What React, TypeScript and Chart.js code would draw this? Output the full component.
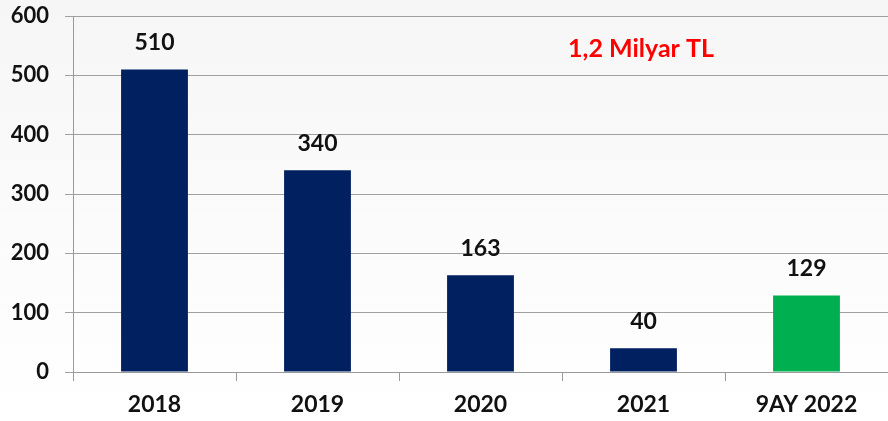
import React, { useEffect, useRef } from "react";
import { Chart, registerables } from "chart.js";

Chart.register(...registerables);

const categories = ["2018", "2019", "2020", "2021", "9AY 2022"];
const values = [510, 340, 163, 40, 129];
const barColors = ["#002060", "#002060", "#002060", "#002060", "#00B050"];
const yTicks = [0, 100, 200, 300, 400, 500, 600];
const noteText = "1,2 Milyar TL";

const FONT = "Lato, 'Liberation Sans', sans-serif";

export default function App() {
  const ref = useRef<HTMLCanvasElement | null>(null);

  useEffect(() => {
    document.body.style.margin = "0";
    const canvas = ref.current;
    if (!canvas) return;

    const bgPlugin = {
      id: "bg",
      beforeDraw(chart: any) {
        const { ctx, width, height } = chart;
        const g = ctx.createLinearGradient(0, 0, 0, height);
        g.addColorStop(0, "#f6f6f6");
        g.addColorStop(1, "#ffffff");
        ctx.save();
        ctx.fillStyle = g;
        ctx.fillRect(0, 0, width, height);
        ctx.restore();
      },
    };

    const labelPlugin = {
      id: "labels",
      afterDatasetsDraw(chart: any) {
        const { ctx } = chart;
        const meta = chart.getDatasetMeta(0);
        ctx.save();
        ctx.font = `bold 23px ${FONT}`;
        ctx.fillStyle = "#111111";
        ctx.textAlign = "center";
        ctx.textBaseline = "middle";
        meta.data.forEach((bar: any, i: number) => {
          ctx.fillText(String(values[i]), bar.x, bar.y - 27);
        });
        const ys = chart.scales.y;
        ctx.font = `bold 25px ${FONT}`;
        ctx.fillStyle = "#ff0000";
        ctx.fillText(noteText, 641, ys.getPixelForValue(545));
        ctx.restore();
      },
    };

    const chart = new Chart(canvas, {
      type: "bar",
      data: {
        labels: categories,
        datasets: [
          {
            data: values,
            backgroundColor: barColors,
            borderWidth: 0,
            categoryPercentage: 1,
            barPercentage: 0.41,
          },
        ],
      },
      options: {
        animation: false,
        responsive: false,
        devicePixelRatio: 1,
        layout: { padding: { top: 16, right: 0, left: 0, bottom: 0 } },
        plugins: {
          legend: { display: false },
          tooltip: { enabled: false },
        },
        scales: {
          x: {
            offset: true,
            grid: {
              offset: true,
              drawOnChartArea: false,
              drawTicks: true,
              tickLength: 9,
              color: "#9a9a9a",
            },
            border: { color: "#9a9a9a", width: 1 },
            ticks: {
              color: "#111111",
              font: { family: FONT, size: 23, weight: "bold" },
              padding: 10,
              maxRotation: 0,
            },
            afterFit(scale: any) {
              scale.height = 49;
            },
          },
          y: {
            min: 0,
            max: 600,
            afterBuildTicks(scale: any) {
              scale.ticks = yTicks.map((v) => ({ value: v }));
            },
            grid: {
              color: "#a0a0a0",
              tickLength: 8,
              drawTicks: true,
            },
            border: { color: "#9a9a9a", width: 1 },
            ticks: {
              color: "#111111",
              font: { family: FONT, size: 22, weight: "bold" },
              padding: 16,
            },
            afterFit(scale: any) {
              scale.width = 73;
              scale.paddingTop = 0;
              scale.paddingBottom = 0;
            },
          },
        },
      },
      plugins: [bgPlugin, labelPlugin],
    } as any);

    return () => chart.destroy();
  }, []);

  return (
    <div style={{ position: "absolute", left: 0, top: 0, width: 888, height: 421 }}>
      <canvas ref={ref} width={888} height={421} style={{ width: 888, height: 421, display: "block" }} />
    </div>
  );
}
